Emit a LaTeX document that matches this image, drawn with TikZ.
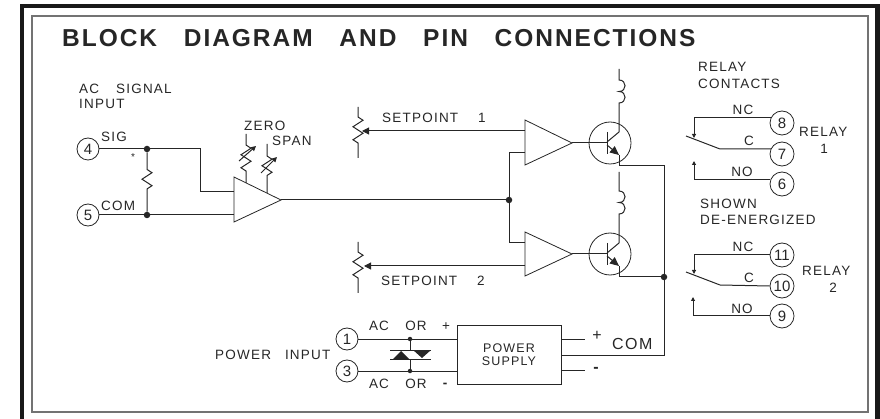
\documentclass[tikz,border=0pt]{standalone}
\usepackage{fontspec}
\setmainfont{Liberation Sans}
\newfontfamily\lblfont[LetterSpace=9]{Liberation Sans}
\newfontfamily\ttlfont[LetterSpace=8]{Liberation Sans}
\usetikzlibrary{arrows.meta,decorations.pathmorphing}
\definecolor{ink}{HTML}{262626}
\tikzset{
  wire/.style={ink,line width=1pt},
  lbl/.style={ink,inner sep=0pt,font=\fontsize{13.5}{14}\selectfont\lblfont},
  pin/.style={circle,draw=ink,line width=0.8pt,inner sep=0pt,minimum size=22pt,text=ink,font=\fontsize{15}{16}\selectfont},
  pinr/.style={pin,minimum size=24pt},
  dot/.style={circle,fill=ink,inner sep=0pt,minimum size=6.5pt},
  dotsm/.style={circle,fill=ink,inner sep=0pt,minimum size=4.5pt},
  amp/.style={ink,line width=0.8pt},
  res/.style={wire,decorate,decoration={zigzag,segment length=13pt,amplitude=5pt,pre=lineto,post=lineto,pre length=#1,post length=#1}},
  bigtip/.style={-{Triangle[length=7pt,width=7pt]}},
  smalltip/.style={-{Triangle[length=4pt,width=4pt]}},
  pottip/.style={-{Triangle[length=5pt,width=5pt]}},
  emit/.style={-{Triangle[length=9pt,width=8pt]}},
  coil/.style={out=0,in=0,looseness=1.8},
  trans/.style={circle,draw=ink,line width=0.8pt,inner sep=0pt,minimum size=42pt}
}
\begin{document}
\begin{tikzpicture}[x=1pt,y=-1pt]
  \useasboundingbox (0,0) rectangle (880,419);
  \draw[black!90,line width=4.5pt] (22,419) -- (22,6) -- (877.5,6) -- (877.5,419);
  \draw[black!55,line width=1.4pt] (32,16) rectangle (868,412);
  \node[ink,inner sep=0pt,anchor=west,font=\fontsize{24.5}{26}\selectfont\bfseries\ttlfont] (title) at (62,38)
    {BLOCK\hspace{18pt} DIAGRAM\hspace{18pt} AND\hspace{18pt} PIN\hspace{18pt} CONNECTIONS};

  \node[lbl,anchor=west] (acsig) at (79,89) {AC\hspace{12pt} SIGNAL};
  \node[lbl,anchor=west] (acinp) at (79,104) {INPUT};
  \node[pin] (p4) at (88,149) {4};
  \node[pin] (p5) at (88,215) {5};
  \node[lbl,anchor=west] (sig) at (101,137) {SIG};
  \node[lbl,anchor=west] (com) at (101,206) {COM};
  \node[lbl] (star) at (133,157) {\fontsize{10}{10}\selectfont *};
  \node[dot] (d4) at (147,149) {};
  \node[dot] (d5) at (147,215) {};
  \coordinate (a1) at (234,192);
  \coordinate (a2) at (234,215);
  \coordinate (ao) at (281,200);
  \draw[wire] (p4) -- (d4) -- (200,149) |- (a1);
  \draw[wire] (p5) -- (d5) -- (a2);
  \draw[res=17pt] (d4) -- (d5);
  \draw[amp] (234,177) -- (ao) -- (234,222) -- cycle;

  \node[lbl,anchor=west] (zero) at (244,126) {ZERO};
  \node[lbl,anchor=west] (span) at (272,141) {SPAN};
  \coordinate (z1) at (246,134);
  \coordinate (z2) at (246,183);
  \coordinate (s1) at (267,144);
  \coordinate (s2) at (267,193);
  \draw[res=11pt] (z1) -- (z2);
  \draw[res=12pt] (s1) -- (s2);
  \draw[wire,pottip] (239,161) -- (256,146);
  \draw[wire,pottip] (261,173) -- (277,157);

  \node[dot] (d0) at (509,200) {};
  \coordinate (b1) at (525,153);
  \coordinate (b2) at (525,243);
  \coordinate (c1) at (525,131);
  \coordinate (c2) at (525,266);
  \coordinate (o1) at (572,143);
  \coordinate (o2) at (572,254);
  \draw[wire] (ao) -- (d0);
  \draw[wire] (b1) -| (d0) |- (b2);
  \draw[amp] (525,120) -- (o1) -- (525,165) -- cycle;
  \draw[amp] (525,232) -- (o2) -- (525,276) -- cycle;

  \node[lbl,anchor=west] (sp1) at (382,118) {SETPOINT\hspace{15pt} 1};
  \node[lbl,anchor=west] (sp2) at (381,281) {SETPOINT\hspace{15pt} 2};
  \coordinate (r1a) at (358,107);
  \coordinate (r1b) at (358,158);
  \coordinate (r2a) at (358,242);
  \coordinate (r2b) at (358,293);
  \coordinate (w1) at (362,131);
  \coordinate (w2) at (364,266);
  \draw[res=10pt] (r1a) -- (r1b);
  \draw[res=10pt] (r2a) -- (r2b);
  \draw[wire,bigtip] (c1) -- (w1);
  \draw[wire,bigtip] (c2) -- (w2);

  \node[trans] (t1) at (610,143) {};
  \node[trans] (t2) at (610,254) {};
  \coordinate (tb1) at (607,143);
  \coordinate (tb2) at (607,254);
  \draw[wire] (o1) -- (tb1);
  \draw[wire] (o2) -- (tb2);
  \draw[wire] (607,132) -- (607,154);
  \draw[wire] (607,243) -- (607,265);
  \coordinate (l1a) at (619,69);
  \coordinate (l1b) at (619,80);
  \coordinate (l1c) at (619,103);
  \coordinate (l2a) at (619,172);
  \coordinate (l2b) at (619,191);
  \coordinate (l2c) at (619,214);
  \coordinate (e1) at (619,155);
  \coordinate (e2) at (619,266);
  \node[dot] (d6) at (664,277) {};
  \draw[wire] (l1a) -- (l1b) to[coil] (619,91.5) to[coil] (l1c) -- (619,132) -- (607,142);
  \draw[wire] (l2a) -- (l2b) to[coil] (619,202.5) to[coil] (l2c) -- (619,243) -- (607,253);
  \draw[wire,emit] (607,145) -- (e1);
  \draw[wire,emit] (607,256) -- (e2);
  \draw[wire] (e1) -- (619,166) -- (664,166) -- (d6);
  \draw[wire] (e2) -- (619,277) -- (d6);

  \node[lbl,anchor=west] (pwr) at (215,355) {POWER\hspace{9pt} INPUT};
  \node[pin] (p1) at (347,339) {1};
  \node[pin] (p3) at (347,371) {3};
  \node[draw=ink,line width=1pt,inner sep=0pt,minimum width=104pt,minimum height=59pt,text=ink,align=center,font=\fontsize{12.5}{13.5}\selectfont\lblfont] (psu) at (509,354.5) {POWER\\SUPPLY};
  \node[lbl] (ac1) at (379,326) {AC};
  \node[lbl] (or1) at (416,326) {OR};
  \node[lbl] (pl1) at (446,327) {+};
  \node[lbl] (ac3) at (379,384) {AC};
  \node[lbl] (or3) at (416,384) {OR};
  \node[lbl] (mi3) at (445,385) {\bfseries -};
  \node[dotsm] (d1) at (410,339) {};
  \node[dotsm] (d3) at (410,371) {};
  \draw[wire] (p1) -- (d1) -- (457,339);
  \draw[wire] (p3) -- (d3) -- (457,371);
  \draw[wire] (d1) -- (410,350);
  \draw[wire] (d3) -- (410,359);
  \draw[wire] (390,350) -- (431,350);
  \draw[wire] (390,359) -- (431,359);
  \fill[ink] (401,351) -- (409,359) -- (393,359) -- cycle;
  \fill[ink] (413,350) -- (431,350) -- (422,358) -- cycle;

  \coordinate (st1) at (585,339);
  \coordinate (st2) at (585,370);
  \draw[wire] (561,339) -- (st1);
  \draw[wire] (561,370) -- (st2);
  \draw[wire] (d6) -- (664,355) -- (561,355);
  \node[lbl,font=\fontsize{16}{16}\selectfont] (pl2) at (597,336) {+};
  \node[lbl,font=\fontsize{16}{16}\selectfont] (mi2) at (596,370) {\bfseries -};
  \node[lbl,anchor=west,font=\fontsize{16}{17}\selectfont\lblfont] (comb) at (612,344) {COM};

  \node[lbl,anchor=west] (rc1) at (698,67) {RELAY};
  \node[lbl,anchor=west] (rc2) at (698,84) {CONTACTS};
  \node[pinr] (p8) at (782,123) {8};
  \node[pinr] (p7) at (782,154) {7};
  \node[pinr] (p6) at (782,184) {6};
  \node[lbl] (nc1) at (743,110) {NC};
  \node[lbl] (cc1) at (749,141) {C};
  \node[lbl] (no1) at (742,172) {NO};
  \node[lbl,anchor=west] (re1) at (799,132) {RELAY};
  \node[lbl] (n1) at (824,149) {1};
  \draw[wire,smalltip] (p8.155) -| (694,138);
  \draw[wire] (686,136) -- (720,149) -- (p7.155);
  \draw[wire,smalltip] (p6.160) -| (694,161);

  \node[lbl,anchor=west] (sh1) at (700,204) {SHOWN};
  \node[lbl,anchor=west] (sh2) at (700,220) {DE-ENERGIZED};

  \node[pinr] (p11) at (782,255) {11};
  \node[pinr] (p10) at (782,286) {10};
  \node[pinr] (p9) at (782,316) {9};
  \node[lbl] (nc2) at (743,247) {NC};
  \node[lbl] (cc2) at (749,278) {C};
  \node[lbl] (no2) at (742,309) {NO};
  \node[lbl,anchor=west] (re2) at (802,271) {RELAY};
  \node[lbl] (n2) at (833,288) {2};
  \draw[wire,smalltip] (p11.west) -| (694,274);
  \draw[wire] (686,272) -- (720,285) -- (p10.west);
  \draw[wire,smalltip] (p9.west) -| (693,297);
\end{tikzpicture}
\end{document}
